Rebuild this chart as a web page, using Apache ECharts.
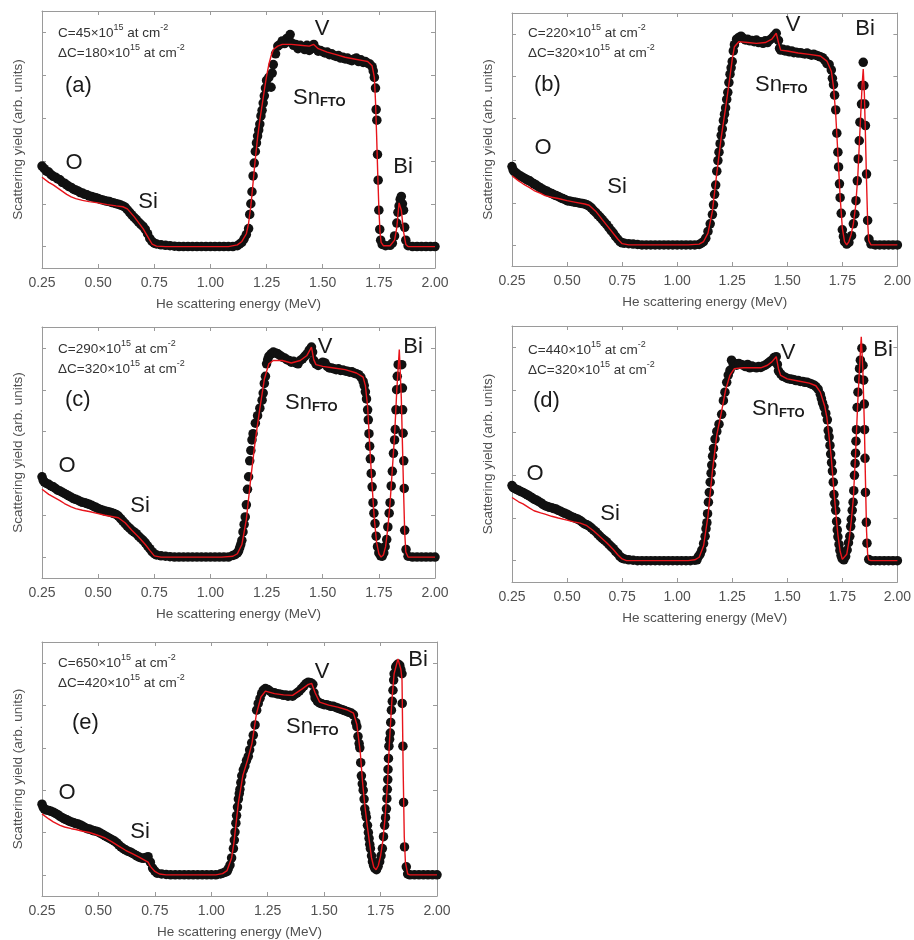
<!DOCTYPE html>
<html>
<head>
<meta charset="utf-8">
<title>RBS spectra</title>
<script src="https://cdn.jsdelivr.net/npm/echarts@6/dist/echarts.min.js"></script>
<style>
  html, body { margin: 0; padding: 0; background: #fff; }
  #chart { width: 914px; height: 940px; }
</style>
</head>
<body>
<div id="chart"></div>
<script>
// ---------------- data ----------------
// He scattering energy (MeV) vs scattering yield (arb. units, 0 = background, 5 = top tick)
const xTicks = ['0.25', '0.50', '0.75', '1.00', '1.25', '1.50', '1.75', '2.00'];
const panelLetters = ['(a)', '(b)', '(c)', '(d)', '(e)'];
const doseC = ['45', '220', '290', '440', '650'];
const doseDeltaC = ['180', '320', '320', '320', '420'];

// measured spectra (black dots)
const dotsA = [[0.25,1.88],[0.26,1.82],[0.27,1.76],[0.28,1.74],[0.29,1.68],[0.30,1.64],[0.31,1.62],[0.32,1.58],[0.33,1.56],[0.34,1.50],[0.35,1.48],[0.36,1.44],[0.37,1.40],[0.38,1.38],[0.39,1.34],[0.40,1.32],[0.41,1.30],[0.42,1.26],[0.43,1.25],[0.44,1.22],[0.45,1.21],[0.46,1.18],[0.47,1.17],[0.48,1.15],[0.49,1.14],[0.50,1.12],[0.51,1.10],[0.52,1.09],[0.53,1.07],[0.54,1.06],[0.55,1.05],[0.56,1.03],[0.57,1.02],[0.58,1.00],[0.59,0.99],[0.60,0.97],[0.61,0.95],[0.62,0.92],[0.63,0.86],[0.64,0.80],[0.65,0.74],[0.66,0.68],[0.67,0.63],[0.68,0.57],[0.69,0.52],[0.70,0.47],[0.71,0.40],[0.72,0.30],[0.73,0.19],[0.74,0.12],[0.75,0.08],[0.76,0.06],[0.78,0.04],[0.80,0.03],[0.82,0.02],[0.84,0.01],[0.86,0],[0.88,0],[0.90,0],[0.92,0],[0.94,0],[0.96,0],[0.98,0],[1.00,0],[1.02,0],[1.04,0],[1.06,0],[1.08,0],[1.10,0],[1.12,0.02],[1.13,0.06],[1.14,0.10],[1.15,0.18],[1.16,0.28],[1.17,0.42],[1.175,0.75],[1.18,1.00],[1.185,1.28],[1.19,1.65],[1.195,1.95],[1.20,2.22],[1.205,2.42],[1.21,2.58],[1.215,2.72],[1.22,2.86],[1.225,3.05],[1.23,3.18],[1.235,3.35],[1.24,3.52],[1.245,3.70],[1.25,3.88],[1.26,3.95],[1.27,3.72],[1.275,4.05],[1.28,4.25],[1.29,4.50],[1.30,4.68],[1.31,4.72],[1.32,4.80],[1.33,4.74],[1.34,4.86],[1.35,4.80],[1.355,4.95],[1.36,4.76],[1.37,4.70],[1.38,4.72],[1.39,4.62],[1.40,4.70],[1.41,4.66],[1.42,4.60],[1.43,4.70],[1.44,4.58],[1.45,4.62],[1.46,4.72],[1.47,4.62],[1.48,4.56],[1.49,4.58],[1.50,4.55],[1.51,4.52],[1.52,4.54],[1.53,4.48],[1.54,4.50],[1.55,4.46],[1.56,4.44],[1.57,4.46],[1.58,4.40],[1.59,4.42],[1.60,4.38],[1.61,4.40],[1.62,4.36],[1.63,4.34],[1.64,4.38],[1.65,4.40],[1.66,4.32],[1.67,4.36],[1.68,4.30],[1.69,4.32],[1.70,4.28],[1.71,4.26],[1.72,4.20],[1.725,4.10],[1.73,3.95],[1.735,3.70],[1.738,3.20],[1.741,2.95],[1.744,2.15],[1.747,1.55],[1.75,0.85],[1.754,0.40],[1.758,0.15],[1.765,0.05],[1.78,0.02],[1.80,0.03],[1.81,0.08],[1.82,0.25],[1.83,0.55],[1.835,0.80],[1.84,0.95],[1.845,1.10],[1.85,1.17],[1.855,1.00],[1.86,0.85],[1.865,0.45],[1.87,0.15],[1.88,0.02],[1.90,0],[1.92,0],[1.94,0],[1.96,0],[1.98,0],[2.00,0]];
const dotsB = [[0.25,1.86],[0.255,1.78],[0.26,1.74],[0.27,1.70],[0.28,1.66],[0.29,1.63],[0.30,1.60],[0.31,1.57],[0.32,1.54],[0.33,1.52],[0.34,1.48],[0.35,1.45],[0.36,1.42],[0.37,1.38],[0.38,1.35],[0.39,1.32],[0.40,1.29],[0.41,1.27],[0.42,1.24],[0.43,1.22],[0.44,1.19],[0.45,1.17],[0.46,1.15],[0.47,1.12],[0.48,1.10],[0.49,1.08],[0.50,1.05],[0.51,1.04],[0.52,1.03],[0.53,1.02],[0.54,1.01],[0.55,1.00],[0.56,0.99],[0.57,0.98],[0.58,0.97],[0.59,0.95],[0.60,0.92],[0.61,0.88],[0.62,0.82],[0.63,0.77],[0.64,0.71],[0.65,0.66],[0.66,0.60],[0.67,0.54],[0.68,0.48],[0.69,0.41],[0.70,0.34],[0.71,0.28],[0.72,0.20],[0.73,0.14],[0.74,0.08],[0.75,0.05],[0.76,0.04],[0.78,0.03],[0.80,0.02],[0.82,0.01],[0.84,0],[0.86,0],[0.88,0],[0.90,0],[0.92,0],[0.94,0],[0.96,0],[0.98,0],[1.00,0],[1.02,0],[1.04,0],[1.06,0],[1.08,0],[1.10,0.01],[1.11,0.04],[1.12,0.08],[1.13,0.16],[1.14,0.32],[1.15,0.50],[1.16,0.72],[1.165,0.95],[1.17,1.20],[1.175,1.42],[1.18,1.75],[1.185,2.00],[1.19,2.20],[1.195,2.40],[1.20,2.60],[1.205,2.75],[1.21,2.95],[1.215,3.10],[1.22,3.25],[1.225,3.45],[1.23,3.62],[1.235,3.85],[1.24,4.05],[1.245,4.20],[1.25,4.35],[1.255,4.60],[1.26,4.75],[1.27,4.88],[1.28,4.92],[1.29,4.95],[1.30,4.90],[1.31,4.86],[1.32,4.88],[1.33,4.84],[1.34,4.85],[1.35,4.82],[1.36,4.86],[1.37,4.80],[1.38,4.82],[1.39,4.78],[1.40,4.84],[1.41,4.80],[1.42,4.86],[1.43,4.90],[1.44,4.96],[1.45,5.02],[1.46,4.85],[1.465,4.66],[1.47,4.62],[1.48,4.64],[1.49,4.60],[1.50,4.62],[1.51,4.58],[1.52,4.60],[1.53,4.56],[1.54,4.57],[1.55,4.55],[1.56,4.56],[1.57,4.54],[1.58,4.53],[1.59,4.55],[1.60,4.52],[1.61,4.50],[1.62,4.52],[1.63,4.50],[1.64,4.48],[1.65,4.46],[1.66,4.44],[1.67,4.38],[1.68,4.30],[1.69,4.28],[1.70,4.15],[1.705,3.95],[1.71,3.80],[1.715,3.55],[1.72,3.20],[1.725,2.65],[1.73,2.20],[1.733,1.85],[1.737,1.45],[1.74,1.12],[1.745,0.75],[1.75,0.36],[1.755,0.20],[1.76,0.08],[1.77,0.02],[1.78,0.06],[1.792,0.22],[1.80,0.50],[1.807,0.73],[1.812,1.05],[1.818,1.52],[1.822,2.04],[1.827,2.47],[1.83,2.91],[1.837,3.34],[1.84,3.78],[1.845,4.33],[1.848,3.78],[1.852,3.34],[1.855,2.83],[1.86,1.68],[1.865,0.58],[1.871,0.14],[1.88,0.02],[1.90,0],[1.92,0],[1.94,0],[1.96,0],[1.98,0],[2.00,0]];
const dotsC = [[0.25,1.92],[0.255,1.84],[0.26,1.80],[0.27,1.76],[0.28,1.74],[0.29,1.70],[0.30,1.68],[0.31,1.64],[0.32,1.60],[0.33,1.58],[0.34,1.55],[0.35,1.52],[0.36,1.49],[0.37,1.46],[0.38,1.43],[0.39,1.40],[0.40,1.38],[0.41,1.36],[0.42,1.33],[0.43,1.31],[0.44,1.30],[0.45,1.28],[0.46,1.26],[0.47,1.24],[0.48,1.21],[0.49,1.19],[0.50,1.16],[0.51,1.14],[0.52,1.12],[0.53,1.10],[0.54,1.09],[0.55,1.08],[0.56,1.06],[0.57,1.04],[0.58,1.02],[0.59,0.98],[0.60,0.92],[0.61,0.86],[0.62,0.80],[0.63,0.74],[0.64,0.69],[0.65,0.64],[0.66,0.60],[0.67,0.56],[0.68,0.50],[0.69,0.45],[0.70,0.40],[0.71,0.34],[0.72,0.27],[0.73,0.20],[0.74,0.13],[0.75,0.08],[0.76,0.05],[0.78,0.03],[0.80,0.02],[0.82,0.01],[0.84,0],[0.86,0],[0.88,0],[0.90,0],[0.92,0],[0.94,0],[0.96,0],[0.98,0],[1.00,0],[1.02,0],[1.04,0],[1.06,0],[1.08,0],[1.10,0.04],[1.11,0.06],[1.12,0.10],[1.125,0.14],[1.13,0.22],[1.135,0.30],[1.14,0.40],[1.145,0.60],[1.15,0.78],[1.155,0.96],[1.16,1.25],[1.165,1.62],[1.17,1.92],[1.175,2.30],[1.18,2.55],[1.185,2.80],[1.19,2.95],[1.20,3.20],[1.21,3.38],[1.22,3.56],[1.23,3.75],[1.235,3.92],[1.24,4.15],[1.245,4.32],[1.25,4.62],[1.255,4.72],[1.26,4.80],[1.27,4.86],[1.28,4.90],[1.29,4.88],[1.30,4.86],[1.31,4.82],[1.32,4.78],[1.33,4.76],[1.34,4.72],[1.35,4.70],[1.36,4.66],[1.37,4.68],[1.38,4.64],[1.39,4.62],[1.40,4.70],[1.41,4.74],[1.42,4.80],[1.43,4.86],[1.44,4.95],[1.45,5.02],[1.455,4.90],[1.46,4.70],[1.47,4.62],[1.48,4.58],[1.49,4.62],[1.50,4.66],[1.51,4.64],[1.52,4.56],[1.53,4.52],[1.54,4.52],[1.55,4.50],[1.56,4.48],[1.57,4.50],[1.58,4.46],[1.59,4.47],[1.60,4.45],[1.61,4.44],[1.62,4.42],[1.63,4.43],[1.64,4.40],[1.65,4.38],[1.66,4.36],[1.67,4.30],[1.68,4.20],[1.685,4.10],[1.69,3.95],[1.695,3.78],[1.70,3.52],[1.703,3.28],[1.706,2.95],[1.709,2.65],[1.712,2.35],[1.716,2.00],[1.72,1.68],[1.724,1.30],[1.728,1.05],[1.733,0.80],[1.738,0.50],[1.744,0.25],[1.75,0.10],[1.758,0.03],[1.765,0.02],[1.772,0.10],[1.778,0.25],[1.785,0.42],[1.79,0.72],[1.796,1.05],[1.80,1.30],[1.805,1.70],[1.81,2.05],[1.815,2.48],[1.82,2.80],[1.823,3.05],[1.826,3.52],[1.829,4.00],[1.832,4.32],[1.836,4.60],[1.852,4.60],[1.855,4.04],[1.856,3.52],[1.858,2.96],[1.861,2.30],[1.863,1.64],[1.865,0.64],[1.871,0.18],[1.88,0.02],[1.90,0],[1.92,0],[1.94,0],[1.96,0],[1.98,0],[2.00,0]];
const dotsD = [[0.25,1.76],[0.255,1.72],[0.26,1.70],[0.27,1.67],[0.28,1.65],[0.29,1.62],[0.30,1.60],[0.31,1.57],[0.32,1.54],[0.33,1.51],[0.34,1.48],[0.35,1.44],[0.36,1.42],[0.37,1.39],[0.38,1.36],[0.39,1.32],[0.40,1.29],[0.41,1.27],[0.42,1.25],[0.43,1.24],[0.44,1.22],[0.45,1.21],[0.46,1.18],[0.47,1.16],[0.48,1.13],[0.49,1.11],[0.50,1.09],[0.51,1.06],[0.52,1.03],[0.53,1.01],[0.54,0.99],[0.55,0.97],[0.56,0.94],[0.57,0.90],[0.58,0.86],[0.59,0.84],[0.60,0.81],[0.61,0.77],[0.62,0.72],[0.63,0.68],[0.64,0.62],[0.65,0.57],[0.66,0.52],[0.67,0.48],[0.68,0.44],[0.69,0.38],[0.70,0.33],[0.71,0.28],[0.72,0.22],[0.73,0.17],[0.74,0.10],[0.75,0.06],[0.76,0.04],[0.78,0.02],[0.80,0.01],[0.82,0],[0.84,0],[0.86,0],[0.88,0],[0.90,0],[0.92,0],[0.94,0],[0.96,0],[0.98,0],[1.00,0],[1.02,0],[1.04,0],[1.06,0],[1.08,0.01],[1.09,0.02],[1.097,0.10],[1.105,0.16],[1.112,0.25],[1.12,0.40],[1.127,0.57],[1.131,0.75],[1.135,0.89],[1.138,1.10],[1.142,1.37],[1.146,1.60],[1.15,1.84],[1.154,2.05],[1.157,2.24],[1.161,2.45],[1.165,2.63],[1.172,2.85],[1.18,3.03],[1.19,3.20],[1.202,3.43],[1.21,3.75],[1.217,3.95],[1.225,4.18],[1.232,4.35],[1.24,4.46],[1.247,4.70],[1.255,4.60],[1.262,4.62],[1.27,4.58],[1.28,4.62],[1.29,4.60],[1.30,4.58],[1.31,4.55],[1.32,4.60],[1.33,4.52],[1.34,4.56],[1.35,4.54],[1.36,4.52],[1.37,4.55],[1.38,4.53],[1.39,4.56],[1.40,4.58],[1.41,4.62],[1.42,4.66],[1.43,4.70],[1.44,4.76],[1.45,4.78],[1.455,4.60],[1.46,4.45],[1.47,4.38],[1.48,4.32],[1.49,4.30],[1.50,4.27],[1.51,4.26],[1.52,4.25],[1.53,4.24],[1.54,4.22],[1.55,4.22],[1.56,4.20],[1.57,4.20],[1.58,4.18],[1.59,4.18],[1.60,4.16],[1.61,4.14],[1.62,4.12],[1.63,4.08],[1.64,4.02],[1.65,3.90],[1.655,3.80],[1.66,3.70],[1.667,3.60],[1.675,3.45],[1.682,3.30],[1.686,3.05],[1.69,2.90],[1.694,2.70],[1.697,2.50],[1.701,2.30],[1.705,2.10],[1.709,1.84],[1.712,1.55],[1.716,1.35],[1.72,1.18],[1.724,0.92],[1.727,0.72],[1.73,0.56],[1.735,0.38],[1.739,0.24],[1.744,0.12],[1.749,0.05],[1.757,0.02],[1.765,0.10],[1.772,0.25],[1.778,0.42],[1.784,0.57],[1.788,0.80],[1.791,0.97],[1.795,1.18],[1.799,1.37],[1.802,1.64],[1.805,2.00],[1.808,2.28],[1.81,2.52],[1.812,2.80],[1.814,3.07],[1.817,3.59],[1.821,3.95],[1.824,4.26],[1.828,4.50],[1.832,4.70],[1.839,4.98],[1.844,4.58],[1.847,4.23],[1.85,3.67],[1.851,3.07],[1.853,2.40],[1.855,1.60],[1.859,0.90],[1.862,0.41],[1.87,0.03],[1.88,0],[1.90,0],[1.92,0],[1.94,0],[1.96,0],[1.98,0],[2.00,0]];
const dotsE = [[0.25,1.67],[0.255,1.60],[0.26,1.56],[0.27,1.53],[0.28,1.52],[0.29,1.50],[0.30,1.48],[0.31,1.45],[0.32,1.42],[0.33,1.38],[0.34,1.35],[0.35,1.32],[0.36,1.30],[0.37,1.27],[0.38,1.25],[0.39,1.23],[0.40,1.21],[0.41,1.20],[0.42,1.18],[0.43,1.15],[0.44,1.12],[0.45,1.09],[0.46,1.08],[0.47,1.06],[0.48,1.04],[0.49,1.03],[0.50,1.01],[0.51,0.98],[0.52,0.95],[0.53,0.92],[0.54,0.89],[0.55,0.86],[0.56,0.83],[0.57,0.80],[0.58,0.76],[0.59,0.71],[0.60,0.66],[0.61,0.62],[0.62,0.59],[0.63,0.56],[0.64,0.54],[0.65,0.51],[0.66,0.48],[0.67,0.45],[0.68,0.42],[0.69,0.40],[0.70,0.39],[0.71,0.41],[0.72,0.43],[0.73,0.30],[0.74,0.16],[0.75,0.09],[0.76,0.04],[0.78,0.02],[0.80,0.01],[0.82,0],[0.84,0],[0.86,0],[0.88,0],[0.90,0],[0.92,0],[0.94,0],[0.96,0],[0.98,0],[1.00,0],[1.02,0],[1.04,0.02],[1.05,0.04],[1.06,0.06],[1.07,0.08],[1.075,0.14],[1.083,0.23],[1.09,0.40],[1.098,0.62],[1.102,0.82],[1.105,1.01],[1.109,1.22],[1.112,1.40],[1.116,1.60],[1.12,1.79],[1.124,1.92],[1.127,2.02],[1.131,2.18],[1.135,2.34],[1.142,2.48],[1.149,2.57],[1.156,2.70],[1.164,2.80],[1.17,2.95],[1.179,3.12],[1.186,3.30],[1.194,3.54],[1.201,3.89],[1.208,4.05],[1.216,4.17],[1.223,4.28],[1.23,4.36],[1.24,4.40],[1.25,4.38],[1.26,4.34],[1.27,4.30],[1.28,4.30],[1.29,4.28],[1.30,4.27],[1.31,4.26],[1.32,4.24],[1.33,4.25],[1.34,4.22],[1.35,4.24],[1.36,4.22],[1.37,4.26],[1.38,4.30],[1.39,4.34],[1.40,4.40],[1.41,4.46],[1.42,4.52],[1.43,4.55],[1.44,4.54],[1.45,4.50],[1.455,4.30],[1.46,4.18],[1.47,4.10],[1.48,4.06],[1.49,4.04],[1.50,4.02],[1.51,4.02],[1.52,4.00],[1.53,3.98],[1.54,3.98],[1.55,3.96],[1.56,3.94],[1.57,3.92],[1.58,3.90],[1.59,3.88],[1.60,3.86],[1.61,3.84],[1.62,3.82],[1.63,3.78],[1.64,3.60],[1.645,3.50],[1.65,3.27],[1.655,3.10],[1.658,3.00],[1.662,2.65],[1.665,2.34],[1.669,2.15],[1.673,2.00],[1.677,1.79],[1.68,1.56],[1.684,1.45],[1.687,1.36],[1.692,1.17],[1.696,1.00],[1.699,0.86],[1.702,0.72],[1.705,0.62],[1.71,0.45],[1.714,0.31],[1.719,0.22],[1.724,0.16],[1.732,0.12],[1.739,0.20],[1.746,0.31],[1.752,0.45],[1.758,0.62],[1.763,0.90],[1.768,1.17],[1.772,1.35],[1.776,1.56],[1.778,1.80],[1.78,2.02],[1.782,2.25],[1.783,2.49],[1.785,2.75],[1.787,3.04],[1.79,3.20],[1.793,3.35],[1.795,3.60],[1.798,3.89],[1.802,4.10],[1.805,4.36],[1.808,4.60],[1.81,4.75],[1.817,4.91],[1.822,4.95],[1.827,4.98],[1.835,4.95],[1.84,4.85],[1.845,4.75],[1.846,4.05],[1.849,3.04],[1.852,1.71],[1.856,0.66],[1.864,0.19],[1.87,0.02],[1.88,0],[1.90,0],[1.92,0],[1.94,0],[1.96,0],[1.98,0],[2.00,0]];

// simulated spectra (red lines)
const fitA = [[0.25,1.62],[0.28,1.50],[0.30,1.44],[0.33,1.33],[0.36,1.22],[0.38,1.16],[0.40,1.12],[0.43,1.08],[0.46,1.05],[0.50,1.02],[0.54,0.98],[0.58,0.95],[0.61,0.93],[0.63,0.88],[0.66,0.70],[0.70,0.42],[0.72,0.24],[0.74,0.06],[0.76,0.01],[0.80,0],[1.00,0],[1.08,0],[1.12,0.04],[1.14,0.12],[1.16,0.30],[1.17,0.55],[1.18,0.95],[1.19,1.50],[1.20,2.05],[1.21,2.55],[1.22,2.95],[1.23,3.30],[1.24,3.65],[1.25,3.98],[1.26,4.25],[1.27,4.45],[1.28,4.60],[1.30,4.68],[1.32,4.72],[1.36,4.72],[1.40,4.70],[1.44,4.68],[1.46,4.72],[1.48,4.62],[1.52,4.54],[1.56,4.48],[1.60,4.42],[1.64,4.38],[1.68,4.34],[1.70,4.32],[1.72,4.22],[1.73,3.95],[1.735,3.40],[1.74,2.60],[1.745,1.70],[1.75,0.90],[1.755,0.35],[1.76,0.10],[1.77,0.02],[1.80,0.02],[1.82,0.15],[1.83,0.45],[1.84,1.02],[1.845,1.02],[1.85,0.85],[1.86,0.35],[1.87,0.05],[1.88,0],[2.00,0]];
const fitB = [[0.25,1.64],[0.28,1.52],[0.30,1.45],[0.33,1.36],[0.35,1.29],[0.38,1.22],[0.40,1.17],[0.43,1.13],[0.46,1.10],[0.50,1.05],[0.54,1.01],[0.58,0.97],[0.60,0.94],[0.63,0.80],[0.66,0.60],[0.70,0.34],[0.73,0.14],[0.75,0.03],[0.78,0],[1.05,0],[1.10,0.02],[1.12,0.08],[1.14,0.28],[1.16,0.80],[1.18,1.70],[1.20,2.55],[1.22,3.25],[1.24,4.00],[1.25,4.40],[1.26,4.70],[1.28,4.82],[1.32,4.80],[1.36,4.78],[1.40,4.80],[1.43,4.88],[1.45,5.02],[1.46,4.80],[1.47,4.62],[1.50,4.60],[1.55,4.55],[1.60,4.52],[1.65,4.48],[1.68,4.36],[1.70,4.12],[1.71,3.75],[1.72,3.10],[1.73,2.15],[1.74,1.15],[1.75,0.40],[1.76,0.08],[1.77,0],[1.78,0.08],[1.79,0.25],[1.80,0.50],[1.81,0.90],[1.82,1.60],[1.83,2.70],[1.84,3.80],[1.845,4.17],[1.85,3.60],[1.855,2.60],[1.86,1.50],[1.865,0.55],[1.87,0.10],[1.88,0],[2.00,0]];
const fitC = [[0.25,1.62],[0.28,1.50],[0.30,1.44],[0.33,1.35],[0.35,1.28],[0.38,1.20],[0.40,1.16],[0.43,1.12],[0.46,1.09],[0.50,1.04],[0.53,1.00],[0.56,0.97],[0.59,0.94],[0.62,0.82],[0.65,0.64],[0.68,0.48],[0.71,0.30],[0.73,0.16],[0.75,0.03],[0.78,0],[1.05,0],[1.10,0.02],[1.12,0.08],[1.14,0.30],[1.16,0.90],[1.18,1.90],[1.20,2.80],[1.22,3.55],[1.24,4.25],[1.26,4.62],[1.28,4.70],[1.32,4.70],[1.36,4.64],[1.40,4.70],[1.43,4.82],[1.45,5.02],[1.46,4.72],[1.47,4.60],[1.50,4.56],[1.55,4.52],[1.60,4.48],[1.65,4.40],[1.68,4.30],[1.69,4.10],[1.70,3.60],[1.71,2.60],[1.72,1.70],[1.73,0.90],[1.74,0.35],[1.75,0.08],[1.76,0],[1.77,0.05],[1.78,0.25],[1.79,0.70],[1.80,1.30],[1.81,2.10],[1.82,2.90],[1.83,4.00],[1.841,4.96],[1.85,3.80],[1.855,2.70],[1.86,1.60],[1.865,0.60],[1.87,0.12],[1.88,0],[2.00,0]];
const fitD = [[0.25,1.48],[0.28,1.38],[0.30,1.33],[0.33,1.23],[0.35,1.17],[0.38,1.12],[0.40,1.09],[0.43,1.04],[0.46,1.00],[0.50,0.95],[0.53,0.91],[0.56,0.88],[0.59,0.82],[0.62,0.70],[0.65,0.56],[0.68,0.42],[0.71,0.26],[0.73,0.14],[0.75,0.04],[0.77,0],[1.05,0],[1.08,0.02],[1.10,0.08],[1.12,0.35],[1.14,1.05],[1.16,2.10],[1.18,2.95],[1.20,3.45],[1.22,4.00],[1.24,4.35],[1.26,4.50],[1.30,4.52],[1.34,4.52],[1.38,4.52],[1.41,4.58],[1.43,4.66],[1.45,4.78],[1.46,4.50],[1.47,4.34],[1.50,4.26],[1.55,4.21],[1.60,4.16],[1.63,4.10],[1.65,3.95],[1.67,3.62],[1.68,3.35],[1.69,2.90],[1.70,2.40],[1.71,1.75],[1.72,1.15],[1.73,0.60],[1.74,0.22],[1.75,0.03],[1.757,0],[1.77,0.15],[1.78,0.45],[1.79,0.90],[1.80,1.45],[1.81,2.50],[1.82,3.70],[1.83,4.70],[1.836,5.25],[1.843,4.50],[1.85,3.20],[1.855,1.90],[1.86,0.70],[1.865,0.15],[1.87,0.02],[1.88,0],[2.00,0]];
const fitE = [[0.25,1.44],[0.28,1.32],[0.30,1.25],[0.33,1.17],[0.35,1.13],[0.38,1.09],[0.40,1.07],[0.43,1.03],[0.46,1.00],[0.50,0.93],[0.53,0.87],[0.56,0.78],[0.59,0.68],[0.62,0.58],[0.65,0.50],[0.68,0.42],[0.70,0.36],[0.72,0.30],[0.73,0.20],[0.75,0.08],[0.77,0.02],[0.80,0],[1.02,0],[1.05,0.03],[1.07,0.10],[1.09,0.40],[1.10,0.75],[1.12,1.70],[1.14,2.35],[1.16,2.70],[1.18,3.10],[1.20,3.80],[1.22,4.20],[1.24,4.34],[1.28,4.28],[1.32,4.25],[1.36,4.24],[1.40,4.38],[1.43,4.50],[1.445,4.52],[1.46,4.30],[1.48,4.08],[1.52,4.01],[1.56,3.96],[1.60,3.90],[1.63,3.82],[1.645,3.55],[1.66,2.90],[1.67,2.20],[1.68,1.65],[1.69,1.20],[1.70,0.80],[1.71,0.40],[1.72,0.18],[1.73,0.12],[1.74,0.22],[1.75,0.45],[1.76,0.80],[1.77,1.35],[1.78,2.10],[1.79,3.20],[1.80,4.10],[1.81,4.75],[1.827,5.10],[1.84,4.85],[1.845,4.60],[1.85,2.50],[1.855,0.90],[1.86,0.30],[1.87,0.02],[1.88,0],[2.00,0]];

const dotSets = [dotsA, dotsB, dotsC, dotsD, dotsE];
const fitSets = [fitA, fitB, fitC, fitD, fitE];

// ---------------- layout ----------------
const FONT = '"Liberation Sans", Arial, sans-serif';
const gridRects = [
    { left: 42,  top: 11,  width: 393, height: 257 },
    { left: 512, top: 13,  width: 388, height: 253 },
    { left: 42,  top: 327, width: 393, height: 251 },
    { left: 512, top: 326, width: 389, height: 256 },
    { left: 42,  top: 642, width: 395, height: 255 }
];
// label anchors per panel: dose text (left, first line y), letter, O, Si, V, Sn, Bi
const labelPos = [
    { dose: [58, 33],  letter: [65, 86],  O: [74, 163], Si: [148, 202], V: [322, 29],  Sn: [293, 98],  Bi: [403, 167] },
    { dose: [528, 33], letter: [534, 85], O: [543, 148], Si: [617, 187], V: [793, 25], Sn: [755, 85],  Bi: [865, 29] },
    { dose: [58, 349], letter: [65, 400], O: [67, 466], Si: [140, 506], V: [325, 347], Sn: [285, 403], Bi: [413, 347] },
    { dose: [528, 350], letter: [533, 401], O: [535, 474], Si: [610, 514], V: [788, 353], Sn: [752, 409], Bi: [883, 350] },
    { dose: [58, 663], letter: [72, 723], O: [67, 793], Si: [140, 832], V: [322, 672], Sn: [286, 727], Bi: [418, 660] }
];

const axisGrey = '#9a9a9a';
const yTickValues = [0, 1, 2, 3, 4, 5];

function textEl(x, y, text, size, align, rich) {
    return {
        type: 'text', x: x, y: y, z: 50,
        style: {
            text: text, fontSize: size, fontFamily: FONT, fill: '#1a1a1a',
            align: align, verticalAlign: 'middle',
            textAlign: align, textVerticalAlign: 'middle',
            rich: rich
        }
    };
}

const supRich = {
    n: { fontSize: 13.5, fontFamily: FONT, fill: '#333', color: '#333' },
    s: { fontSize: 9, fontFamily: FONT, fill: '#333', color: '#333', padding: [0, 0, 10, 0] }
};
const snRich = {
    b: { fontSize: 22, fontFamily: FONT, fill: '#1a1a1a', color: '#1a1a1a' },
    t: { fontSize: 13, fontFamily: FONT, fontWeight: 'bold', fill: '#1a1a1a', color: '#1a1a1a', padding: [8, 0, 0, 0] }
};

const grids = [], xAxes = [], yAxes = [], series = [], graphics = [];

gridRects.forEach((r, i) => {
    grids.push(Object.assign({ containLabel: false }, r));

    const xBase = {
        gridIndex: i, type: 'value', min: 0.25, max: 2.0, interval: 0.25,
        axisLine: { show: true, onZero: false, lineStyle: { color: axisGrey, width: 1 } },
        axisTick: { show: true, inside: true, length: 4, lineStyle: { color: axisGrey } },
        splitLine: { show: false }
    };
    xAxes.push(Object.assign({}, xBase, {
        position: 'bottom',
        axisLabel: {
            show: true, margin: 8, fontSize: 14, color: '#505050', fontFamily: FONT,
            formatter: v => xTicks[Math.round((v - 0.25) / 0.25)] || v.toFixed(2)
        },
        name: 'He scattering energy (MeV)', nameLocation: 'middle', nameGap: 29,
        nameTextStyle: { fontSize: 13.5, color: '#505050', fontFamily: FONT }
    }));
    xAxes.push(Object.assign({}, xBase, { position: 'top', axisLabel: { show: false } }));

    const yBase = {
        gridIndex: i, type: 'value', min: -0.5, max: 5.5,
        axisLine: { show: true, onZero: false, lineStyle: { color: axisGrey, width: 1 } },
        axisTick: { show: true, inside: true, length: 4, customValues: yTickValues, lineStyle: { color: axisGrey } },
        axisLabel: { show: false },
        splitLine: { show: false }
    };
    yAxes.push(Object.assign({}, yBase, {
        position: 'left',
        name: 'Scattering yield (arb. units)', nameLocation: 'middle', nameGap: 17,
        nameTextStyle: { fontSize: 13.5, color: '#505050', fontFamily: FONT }
    }));
    yAxes.push(Object.assign({}, yBase, { position: 'right' }));

    series.push({
        type: 'scatter', xAxisIndex: 2 * i, yAxisIndex: 2 * i,
        data: dotSets[i], symbolSize: 9.5, clip: false, z: 2,
        itemStyle: { color: '#111', opacity: 1 }
    });
    series.push({
        type: 'line', xAxisIndex: 2 * i, yAxisIndex: 2 * i,
        data: fitSets[i], showSymbol: false, symbol: 'none', z: 3,
        lineStyle: { color: '#e8141b', width: 1.4 }
    });

    // text annotations
    const p = labelPos[i];
    graphics.push(textEl(p.dose[0], p.dose[1], '{n|C=' + doseC[i] + '×10}{s|15}{n| at cm}{s|-2}', 13.5, 'left', supRich));
    graphics.push(textEl(p.dose[0], p.dose[1] + 20, '{n|ΔC=' + doseDeltaC[i] + '×10}{s|15}{n| at cm}{s|-2}', 13.5, 'left', supRich));
    graphics.push(textEl(p.letter[0], p.letter[1], panelLetters[i], 22, 'left'));
    graphics.push(textEl(p.O[0], p.O[1], 'O', 22, 'center'));
    graphics.push(textEl(p.Si[0], p.Si[1], 'Si', 22, 'center'));
    graphics.push(textEl(p.V[0], p.V[1], 'V', 22, 'center'));
    graphics.push(textEl(p.Sn[0], p.Sn[1], '{b|Sn}{t|FTO}', 22, 'left', snRich));
    graphics.push(textEl(p.Bi[0], p.Bi[1], 'Bi', 22, 'center'));
});

const chart = echarts.init(document.getElementById('chart'), null, { renderer: 'canvas' });
chart.setOption({
    backgroundColor: '#ffffff',
    animation: false,
    textStyle: { fontFamily: FONT },
    grid: grids,
    xAxis: xAxes,
    yAxis: yAxes,
    series: series,
    graphic: { elements: graphics }
});
</script>
</body>
</html>
